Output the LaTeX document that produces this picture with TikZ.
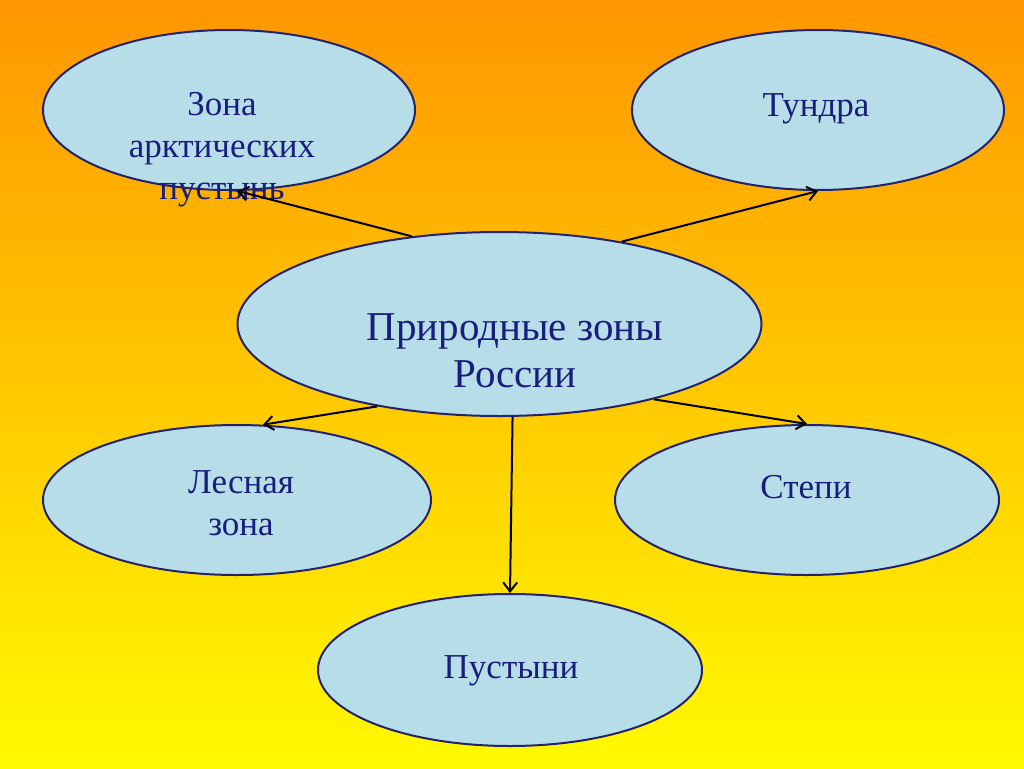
\documentclass[tikz,border=0pt]{standalone}
\usepackage{fontspec}
\setmainfont{Liberation Serif}
\usetikzlibrary{shapes.geometric,arrows.meta}
\definecolor{fillb}{RGB}{183,222,232}
\definecolor{edgeb}{RGB}{35,35,110}
\definecolor{txt}{RGB}{25,30,125}
\definecolor{topc}{RGB}{255,150,0}
\definecolor{midc}{RGB}{255,205,0}
\definecolor{botc}{RGB}{255,250,0}
\begin{document}
\begin{tikzpicture}[x=1pt,y=-1pt,
 zone/.style={ellipse,draw=edgeb,fill=fillb,line width=2pt,inner sep=0pt},
 lbl/.style={text=txt,align=center,font=\fontsize{35}{42}\selectfont,inner sep=0pt},
 big/.style={text=txt,align=center,font=\fontsize{41}{47}\selectfont,inner sep=0pt},
 link/.style={line width=2pt,-{Straight Barb[length=9pt,width=14pt]}}]
\useasboundingbox (0,0) rectangle (1024,768);
\shade[top color=topc,middle color=midc,bottom color=botc] (0,0) rectangle (1024,768);
% ellipses
\node[zone,minimum width=372pt,minimum height=160pt] (a) at (229,110) {};
\node[zone,minimum width=372pt,minimum height=160pt] (t) at (818,110) {};
\node[zone,minimum width=524pt,minimum height=184pt] (c) at (499.5,324) {};
\node[zone,minimum width=388pt,minimum height=150pt] (f) at (237,500) {};
\node[zone,minimum width=384pt,minimum height=150pt] (s) at (807,500) {};
\node[zone,minimum width=384pt,minimum height=152pt] (d) at (510,670) {};
% texts
\node[lbl] (ta) at (222,150) {Зона\\арктических\\пустынь};
\node[lbl] (tt) at (816,109) {Тундра};
\node[big] (tc) at (515,351) {Природные зоны\\России};
\node[lbl] (tf) at (241,503) {Лесная\\зона};
\node[lbl] (ts) at (806,487) {Степи};
\node[lbl] (td) at (511,671) {Пустыни};
% connectors
\draw[link] (c.135) -- (a.-84);
\draw[link] (c.34) -- (t.south);
\draw[link] (c.-146) -- (f.71);
\draw[link] (c.-26) -- (s.north);
\draw[link] (c.-82) -- (d.north);
\end{tikzpicture}
\end{document}
